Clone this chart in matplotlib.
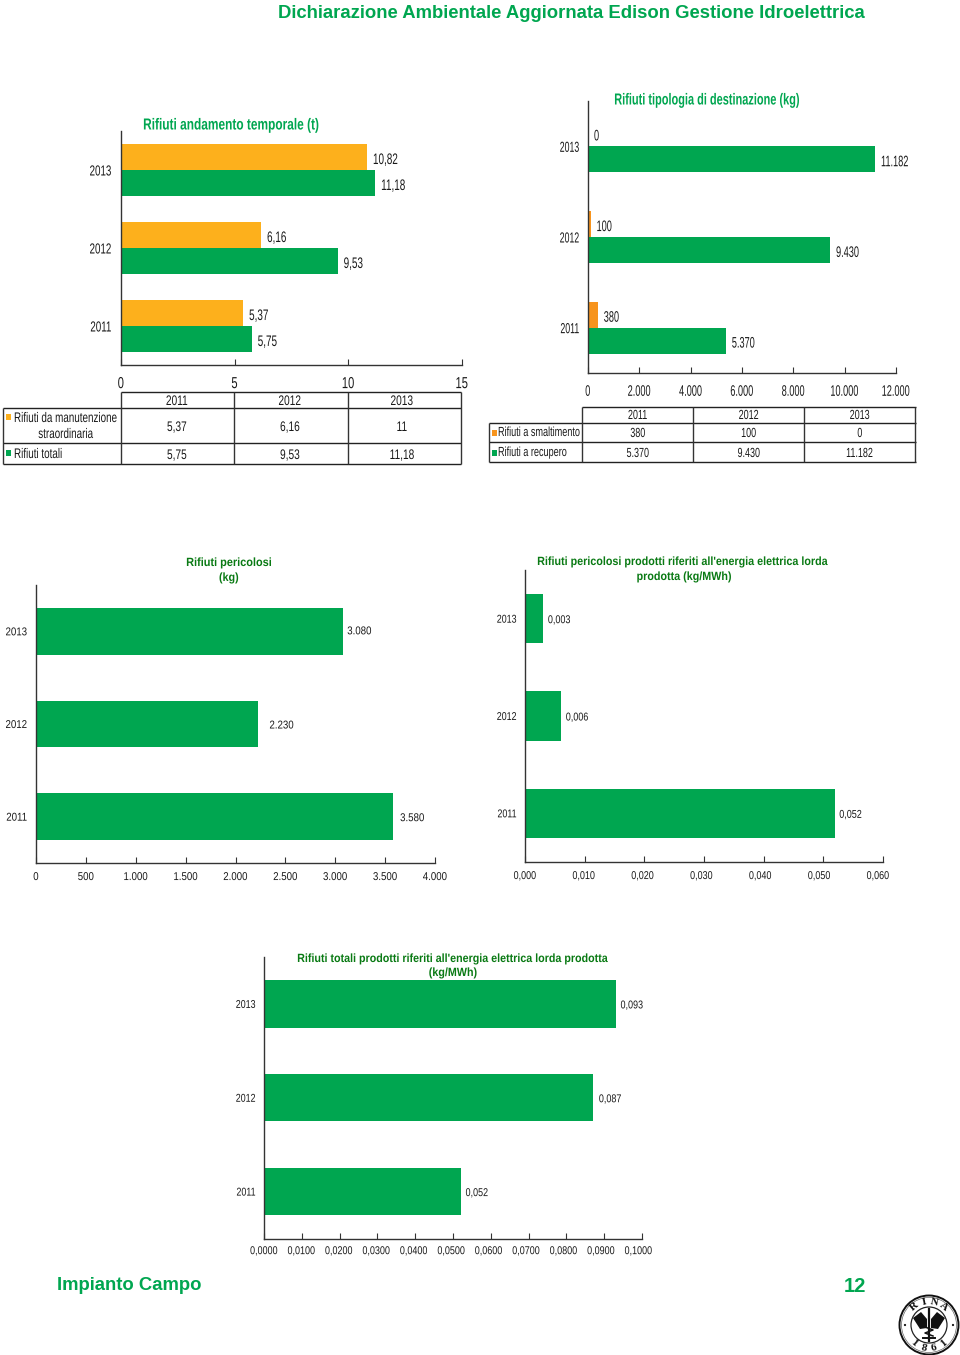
import matplotlib
matplotlib.use("Agg")
import matplotlib.pyplot as plt
from matplotlib.patches import Rectangle, Circle, Polygon
from matplotlib.patheffects import AbstractPathEffect
from matplotlib.transforms import Affine2D

W, H = 960, 1355
GREEN = "#00A650"
ORANGE = "#FDB01C"
ORANGE2 = "#F7941D"
TITLE = "#00A650"
DARK = "#0A7A14"
INK = "#1a1a1a"
SANS = ["Liberation Sans", "DejaVu Sans"]

years = ["2011", "2012", "2013"]

t1_special = [5.37, 6.16, 10.82]
t1_total = [5.75, 9.53, 11.18]
t1_special_lbl = ["5,37", "6,16", "10,82"]
t1_total_lbl = ["5,75", "9,53", "11,18"]
t1_table_special = ["5,37", "6,16", "11"]
t1_ticks = [0, 5, 10, 15]

t2_disposal = [380, 100, 0]
t2_recovery = [5370, 9430, 11182]
t2_disposal_lbl = ["380", "100", "0"]
t2_recovery_lbl = ["5.370", "9.430", "11.182"]
t2_ticks = [0, 2000, 4000, 6000, 8000, 10000, 12000]
t2_ticklbl = ["0", "2.000", "4.000", "6.000", "8.000", "10.000", "12.000"]

t3_values = [3580, 2230, 3080]
t3_lbl = ["3.580", "2.230", "3.080"]
t3_ticks = [0, 500, 1000, 1500, 2000, 2500, 3000, 3500, 4000]
t3_ticklbl = ["0", "500", "1.000", "1.500", "2.000", "2.500", "3.000", "3.500", "4.000"]

t4_values = [0.052, 0.006, 0.003]
t4_lbl = ["0,052", "0,006", "0,003"]
t4_ticks = [0, 0.01, 0.02, 0.03, 0.04, 0.05, 0.06]
t4_ticklbl = ["0,000", "0,010", "0,020", "0,030", "0,040", "0,050", "0,060"]

t5_values = [0.052, 0.087, 0.093]
t5_lbl = ["0,052", "0,087", "0,093"]
t5_ticks = [0, 0.01, 0.02, 0.03, 0.04, 0.05, 0.06, 0.07, 0.08, 0.09, 0.1]
t5_ticklbl = ["0,0000", "0,0100", "0,0200", "0,0300", "0,0400", "0,0500",
              "0,0600", "0,0700", "0,0800", "0,0900", "0,1000"]


class Condense(AbstractPathEffect):
    """Squeeze a text horizontally, keeping it anchored as its alignment says."""

    def __init__(self, s, ha="left", nudge=0.0):
        super().__init__()
        self.s = s
        self.k = {"left": 0.0, "center": 0.5, "right": 1.0}[ha]
        self.nudge = nudge

    def draw_path(self, renderer, gc, tpath, affine, rgbFace=None):
        ext = tpath.get_extents(affine)
        shift = ext.width * (1 - self.s) * self.k + self.nudge
        tr = Affine2D().scale(self.s, 1) + affine + Affine2D().translate(shift, 0)
        renderer.draw_path(gc, tpath, tr, rgbFace)


fig = plt.figure(figsize=(W / 100, H / 100), dpi=100, facecolor="white")


def make_axes(x0, x1, y0, y1, xmax, ticks, ticklbl, fs, pad, ylab_pad, s, yfs, ys, drift=0.0):
    ax = fig.add_axes([x0 / W, 1 - y1 / H, (x1 - x0) / W, (y1 - y0) / H])
    ax.set_xlim(0, xmax)
    ax.set_ylim(-0.5, 2.5)
    ax.patch.set_alpha(0)
    for side in ("top", "right"):
        ax.spines[side].set_visible(False)
    for side in ("left", "bottom"):
        ax.spines[side].set_color("#333333")
        ax.spines[side].set_linewidth(1.0)
    ax.set_xticks(ticks)
    ax.set_xticklabels(ticklbl, family=SANS, fontsize=fs, color=INK)
    ax.tick_params(axis="x", direction="in", length=4, width=0.8, pad=pad, color="#333333")
    ax.set_yticks(range(3))
    ax.set_yticklabels(years, family=SANS, fontsize=yfs, color=INK)
    ax.tick_params(axis="y", length=0, pad=ylab_pad)
    n = len(ticks) - 1
    for i, t in enumerate(ax.get_xticklabels()):
        t.set_path_effects([Condense(s, "center", drift * i / n)])
    for t in ax.get_yticklabels():
        t.set_path_effects([Condense(ys, "right")])
    return ax


def labels(ax, vals, texts, dy, fs, s, dx, ypx):
    for i, (v, t) in enumerate(zip(vals, texts)):
        a = ax.annotate(t, (v, i + dy), xytext=(dx[i] * 0.72, -ypx[i] * 0.72),
                        textcoords="offset points", va="center", ha="left",
                        family=SANS, fontsize=fs, color=INK)
        a.set_path_effects([Condense(s, "left")])


def grouped(ax, a, b, a_lbl, b_lbl, col_a, h, s):
    ax.barh([i + h / 2 for i in range(3)], a, height=h, color=col_a, linewidth=0)
    ax.barh([i - h / 2 for i in range(3)], b, height=h, color=GREEN, linewidth=0)
    labels(ax, a, a_lbl, h / 2, 11, s, (6, 6, 6), (3, 3, 3))
    labels(ax, b, b_lbl, -h / 2, 11, s, (6, 6, 6), (3, 3, 3))


ax1 = make_axes(121, 462, 131, 365, 15, t1_ticks, [str(t) for t in t1_ticks], 11.5, 8, 6.5, 0.7, 10.5, 0.67)
grouped(ax1, t1_special, t1_total, t1_special_lbl, t1_total_lbl, ORANGE, 0.333, 0.65)

ax2 = make_axes(588, 896, 101, 373, 12000, t2_ticks, t2_ticklbl, 11, 8.5, 5.8, 0.6, 10.5, 0.6)
grouped(ax2, t2_disposal, t2_recovery, t2_disposal_lbl, t2_recovery_lbl, ORANGE2, 0.285, 0.6)

ax3 = make_axes(36, 435, 585, 863, 4000, t3_ticks, t3_ticklbl, 8.2, 6.5, 6.2, 0.85, 8.2, 0.85)
ax3.barh(range(3), t3_values, height=0.505, color=GREEN, linewidth=0)
labels(ax3, t3_values, t3_lbl, 0, 8.2, 0.85, (7, 11, 4), (1.5, 1.5, 0))

ax4 = make_axes(525, 883, 570, 862, 0.06, t4_ticks, t4_ticklbl, 8.2, 6.5, 5.8, 0.79, 8.2, 0.78, -5)
ax4.barh(range(3), t4_values, height=0.505, color=GREEN, linewidth=0)
labels(ax4, t4_values, t4_lbl, 0, 8.2, 0.79, (4, 5, 5), (1.5, 1.5, 1.5))

ax5 = make_axes(264, 642, 957, 1238.5, 0.1, t5_ticks, t5_ticklbl, 8.2, 5.5, 5.8, 0.79, 8.2, 0.78, -3.5)
ax5.barh(range(3), t5_values, height=0.505, color=GREEN, linewidth=0)
labels(ax5, t5_values, t5_lbl, 0, 8.2, 0.79, (5, 6, 5), (1.5, 1.5, 1.5))

# overlay in pixel coordinates for page text, data tables and seal
ov = fig.add_axes([0, 0, 1, 1])
ov.set_xlim(0, W)
ov.set_ylim(H, 0)
ov.axis("off")
ov.patch.set_alpha(0)


def T(x, y, s, fs=10, color=INK, ha="center", weight="normal", cond=None, family=SANS, **kw):
    t = ov.text(x, y, s, fontsize=fs, family=family, color=color, ha=ha, va="center",
                fontweight=weight, **kw)
    if cond:
        t.set_path_effects([Condense(cond, ha)])


T(571, 13.5, "Dichiarazione Ambientale Aggiornata Edison Gestione Idroelettrica",
  13.3, TITLE, weight="bold")
T(232, 125, "Rifiuti andamento temporale (t)", 11.5, TITLE, weight="bold", cond=0.745)
T(708, 100, "Rifiuti tipologia di destinazione (kg)", 11.5, TITLE, weight="bold", cond=0.687)
T(229, 563, "Rifiuti pericolosi", 8.6, DARK, weight="bold", cond=0.915)
T(229, 578, "(kg)", 8.6, DARK, weight="bold", cond=0.9)
T(682, 562, "Rifiuti pericolosi prodotti riferiti all'energia elettrica lorda", 8.6, DARK, weight="bold", cond=0.9)
T(684, 577, "prodotta (kg/MWh)", 8.6, DARK, weight="bold", cond=0.9)
T(452, 959, "Rifiuti totali prodotti riferiti all'energia elettrica lorda prodotta", 8.6, DARK, weight="bold", cond=0.896)
T(453, 973, "(kg/MWh)", 8.6, DARK, weight="bold", cond=0.9)
T(57, 1286, "Impianto Campo", 13.3, TITLE, ha="left", weight="bold")
T(855, 1286, "12", 14.5, TITLE, weight="bold")


def hl(y, x0, x1, lw=1.0):
    ov.plot([x0, x1], [y, y], color="#222222", lw=lw, solid_capstyle="butt")


def vl(x, y0, y1, lw=1.0):
    ov.plot([x, x], [y0, y1], color="#333333", lw=lw, solid_capstyle="butt")


# table 1
for y, x0 in [(392, 121), (408, 3), (443, 3), (464, 3)]:
    hl(y, x0, 461)
for x in (121, 234, 348, 461):
    vl(x, 392, 464)
vl(3, 408, 464)
for x, yr, a, b in zip((177, 290, 402), years, t1_table_special, t1_total_lbl):
    T(x, 401, yr, 10, cond=0.73)
    T(x, 427, a, 10, cond=0.73)
    T(x, 455, b, 10, cond=0.73)
ov.add_patch(Rectangle((6, 414), 5, 6, color=ORANGE, lw=0))
ov.add_patch(Rectangle((6, 450), 5, 6, color=GREEN, lw=0))
T(14, 418, "Rifiuti da manutenzione", 10, ha="left", cond=0.71)
T(66, 434, "straordinaria", 10, cond=0.71)
T(14, 454, "Rifiuti totali", 10, ha="left", cond=0.71)

# table 2
for y, x0 in [(407, 582), (423, 489), (442, 489), (462, 489)]:
    hl(y, x0, 916)
for x in (582, 693, 804, 915):
    vl(x, 407, 462)
vl(489, 423, 462)
for x, yr, a, b in zip((638, 749, 860), years, t2_disposal_lbl, t2_recovery_lbl):
    T(x, 416, yr, 9.5, cond=0.68)
    T(x, 434, a, 9.5, cond=0.68)
    T(x, 454, b, 9.5, cond=0.68)
ov.add_patch(Rectangle((492, 430), 5, 6, color=ORANGE2, lw=0))
ov.add_patch(Rectangle((492, 450), 5, 6, color=GREEN, lw=0))
T(498, 433, "Rifiuti a smaltimento", 9.5, ha="left", cond=0.69)
T(498, 453, "Rifiuti a recupero", 9.5, ha="left", cond=0.69)

# certification seal
cx, cy = 929, 1325
ov.add_patch(Circle((cx, cy), 29.5, fc="white", ec="#111111", lw=1.4))
ov.add_patch(Circle((cx, cy), 27.5, fc="none", ec="#666666", lw=0.5))
ov.add_patch(Circle((cx, cy), 18, fc="white", ec="#222222", lw=0.9))
ov.add_patch(Polygon([(cx - 16, cy - 7), (cx - 8, cy - 13), (cx - 2, cy - 6), (cx - 2, cy + 3), (cx - 9, cy + 4)], color="#111111", lw=0))
ov.add_patch(Polygon([(cx + 16, cy - 7), (cx + 8, cy - 13), (cx + 2, cy - 6), (cx + 2, cy + 3), (cx + 9, cy + 4)], color="#111111", lw=0))
ov.plot([cx, cx], [cy - 16, cy + 16], color="#111111", lw=1.6)
ov.plot([cx - 6, cx + 6], [cy + 13, cy + 13], color="#111111", lw=1.4)
ov.plot([cx - 4, cx + 4, cx - 4, cx + 4], [cy + 2, cy + 5, cy + 8, cy + 11], color="#111111", lw=1.1)
ov.add_patch(Circle((cx - 24, cy), 1.1, color="#111111", lw=0))
ov.add_patch(Circle((cx + 24, cy), 1.1, color="#111111", lw=0))
for s, dx, dy, r in [("R", -15, -18, 40), ("I", -5, -23, 12), ("N", 5, -23, -12), ("A", 15, -18, -40),
                     ("1", -15, 18, -40), ("8", -5, 23, -12), ("6", 5, 23, 12), ("1", 15, 18, 40)]:
    T(cx + dx, cy + dy, s, 8, "#111111", weight="bold", rotation=r, family=["Liberation Serif"])

fig.savefig("out.png", dpi=100)
